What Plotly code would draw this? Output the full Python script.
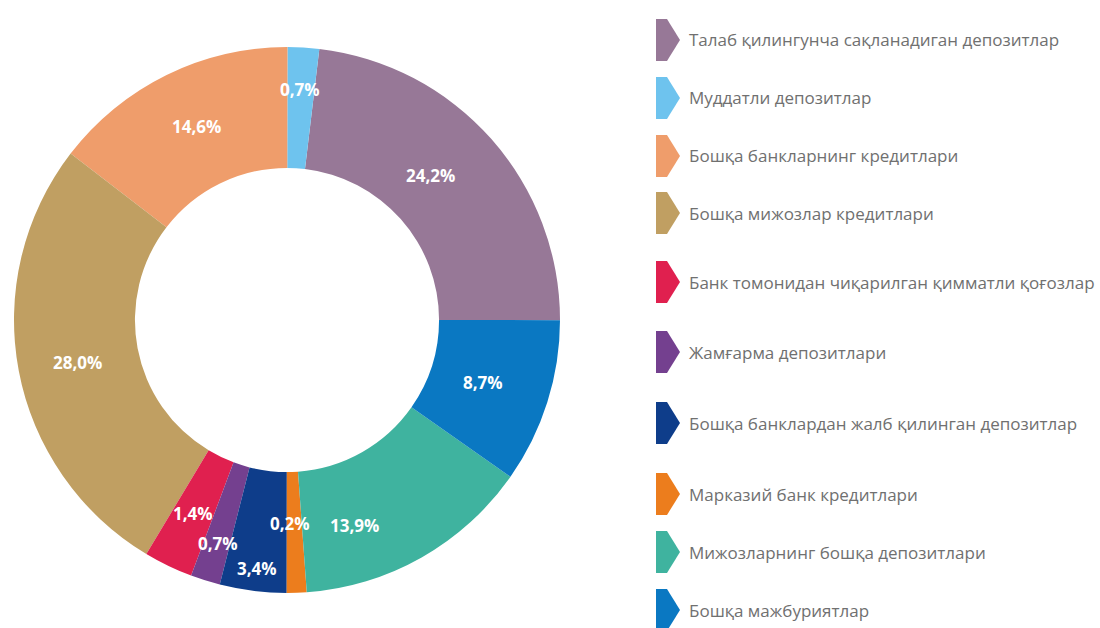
import plotly.graph_objects as go

# Categories (legend order, counterclockwise from 3 o'clock)
categories = [
    "Талаб қилингунча сақланадиган депозитлар",
    "Муддатли депозитлар",
    "Бошқа банкларнинг кредитлари",
    "Бошқа мижозлар кредитлари",
    "Банк томонидан чиқарилган қимматли қоғозлар",
    "Жамғарма депозитлари",
    "Бошқа банклардан жалб қилинган депозитлар",
    "Марказий банк кредитлари",
    "Мижозларнинг бошқа депозитлари",
    "Бошқа мажбуриятлар",
]
# Printed percentage labels
printed_pct = [24.2, 0.7, 14.6, 28.0, 1.4, 0.7, 3.4, 0.2, 13.9, 8.7]
# Arc sizes as drawn in the picture (small slices are drawn wider than printed)
arc_sizes = [23.1, 1.86, 14.58, 26.8, 2.9, 1.75, 3.94, 1.17, 14.1, 9.72]

colors = ["#977897", "#6ec3ee", "#ef9d6b", "#c09f62", "#e0204f",
          "#74408f", "#0e3d8a", "#ec7d1d", "#3fb39f", "#0a78c2"]

W, H = 1100, 628
cx, cy, R = 287, 320, 273

def fmt(v):
    return f"{v:.1f}".replace(".", ",") + "%"

labels_text = [fmt(v) for v in printed_pct]

fig = go.Figure(go.Pie(
    labels=categories,
    values=arc_sizes,
    sort=False,
    direction="counterclockwise",
    rotation=6.8,
    hole=0.557,
    marker=dict(colors=colors, line=dict(color="white", width=0)),
    textinfo="none",
    showlegend=False,
    domain=dict(x=[(cx - R) / W, (cx + R) / W], y=[1 - (cy + R) / H, 1 - (cy - R) / H]),
))

# Label positions (pixels) for the percentage texts
label_pos = [(430, 176), (300, 90), (196, 126), (77, 362), (193, 513),
             (218, 543), (257, 568), (290, 523), (354, 525), (483, 382)]

annotations = []
for txt, (px, py) in zip(labels_text, label_pos):
    annotations.append(dict(
        x=px / W, y=1 - py / H, xref="paper", yref="paper",
        text=txt, showarrow=False, xanchor="center", yanchor="middle",
        font=dict(family="Open Sans", size=17, color="white", weight="bold"),
    ))

# Custom legend with arrow-shaped markers
legend_y = [40, 98, 156, 213, 282, 352, 423, 494, 552, 610]
shapes = []
mx0, mx1, mx2, mh = 656, 667, 680, 21
for name, col, ly in zip(categories, colors, legend_y):
    pts = [(mx0, ly - mh), (mx1, ly - mh), (mx2, ly), (mx1, ly + mh), (mx0, ly + mh)]
    path = "M " + " L ".join(f"{x / W:.5f},{1 - y / H:.5f}" for x, y in pts) + " Z"
    shapes.append(dict(type="path", path=path, xref="paper", yref="paper",
                       fillcolor=col, line=dict(width=0)))
    annotations.append(dict(
        x=687 / W, y=1 - ly / H, xref="paper", yref="paper",
        text=name, showarrow=False, xanchor="left", yanchor="middle",
        font=dict(family="Open Sans", size=17, color="#707070"),
    ))

fig.update_layout(
    width=W, height=H,
    margin=dict(l=0, r=0, t=0, b=0),
    paper_bgcolor="white",
    plot_bgcolor="white",
    shapes=shapes,
    annotations=annotations,
)

fig.write_html("out.html", config={"displayModeBar": False},
               post_script="document.body.style.margin='0';")
